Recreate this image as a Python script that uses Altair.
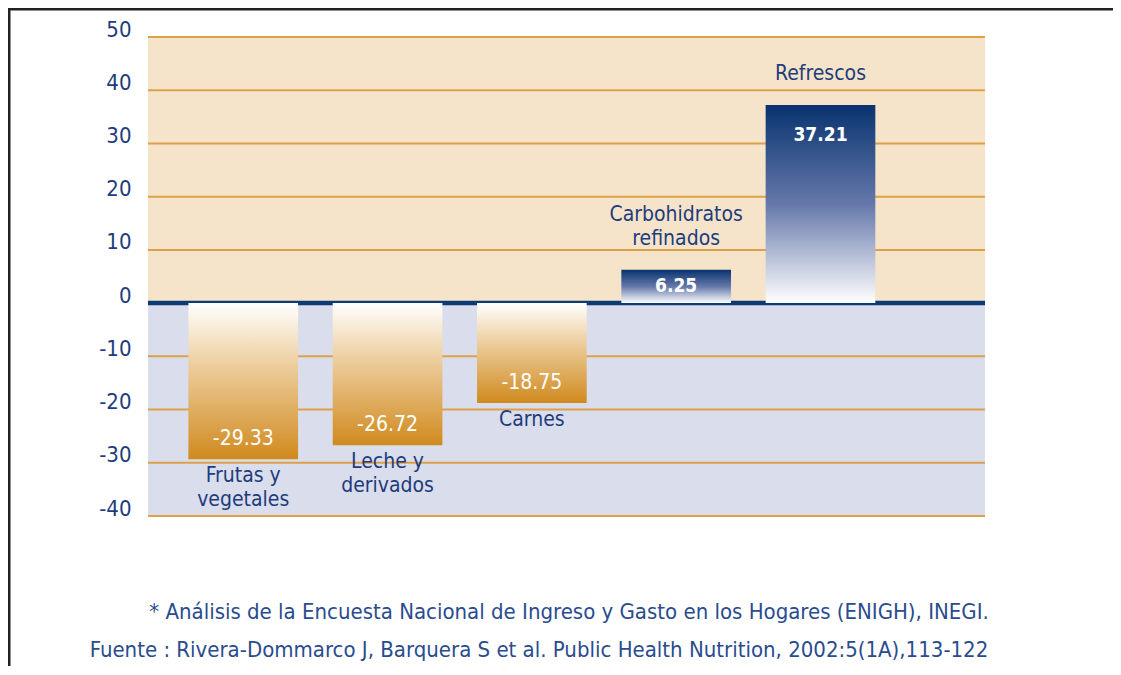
import altair as alt
import pandas as pd

# ---- data ----
categories = ["Frutas y\nvegetales", "Leche y\nderivados", "Carnes", "Carbohidratos\nrefinados", "Refrescos"]
values = [-29.33, -26.72, -18.75, 6.25, 37.21]
value_labels = ["-29.33", "-26.72", "-18.75", "6.25", "37.21"]
y_ticks = [50, 40, 30, 20, 10, 0, -10, -20, -30, -40]
footnotes = [
    "* Análisis de la Encuesta Nacional de Ingreso y Gasto en los Hogares (ENIGH), INEGI.",
    "Fuente : Rivera-Dommarco J, Barquera S et al. Public Health Nutrition, 2002:5(1A),113-122",
]

FONT = "DejaVu Sans Condensed, Liberation Sans Narrow, sans-serif"
NAVY = "#0B3A75"
TEXT_NAVY = "#1E3C7C"
ORANGE = "#D08A1E"
GRID = "#DDA04A"
TAN = "#F5E4CA"
LAV = "#DADDEB"

W, H = 837, 479
PX_PER_UNIT = H / 90.0

df = pd.DataFrame({"cat": categories, "value": values, "label": value_labels,
                   "pos": list(range(len(categories)))})

xscale = alt.Scale(domain=[-0.66, 5.14], nice=False, zero=False)
yscale = alt.Scale(domain=[-40, 50], nice=False, zero=False)
yaxis = alt.Axis(values=y_ticks, title=None, ticks=False, tickSize=0, domain=False, grid=False,
                 labelFont=FONT, labelFontSize=22, labelColor=TEXT_NAVY, labelPadding=17,
                 labelBaseline="alphabetic", labelOffset=-1, labelAlign="right",
                 labelExpr="toString(datum.value)")

# background bands
bg_df = pd.DataFrame({"lo": [0, -40], "hi": [50, 0], "zone": ["pos", "neg"]})
bg = alt.Chart(bg_df).mark_rect().encode(
    x=alt.value(0), x2=alt.value(W),
    y=alt.Y("lo:Q", scale=yscale, axis=yaxis), y2="hi:Q",
    color=alt.Color("zone:N", scale=alt.Scale(domain=["pos", "neg"], range=[TAN, LAV]), legend=None),
)

grid_df = pd.DataFrame({"t": y_ticks})
grid = alt.Chart(grid_df).mark_rule(color=GRID, strokeWidth=2).encode(
    x=alt.value(0), x2=alt.value(W),
    y=alt.Y("t:Q", scale=yscale, axis=yaxis),
)

zero = alt.Chart(pd.DataFrame({"z": [0]})).mark_rule(color=NAVY, strokeWidth=4.5).encode(
    x=alt.value(0), x2=alt.value(W),
    y=alt.Y("z:Q", scale=yscale, axis=yaxis),
)

base = alt.Chart(df).transform_calculate(
    xa="datum.pos - 0.38", xb="datum.pos + 0.38",
    ly="datum.value > 0 ? max(datum.value - 5.6, datum.value / 2) : datum.value + 3.76",
    nl="length(split(datum.cat, '\\n'))",
).transform_calculate(
    cy=f"datum.value + (18 + 24 * datum.nl) / {PX_PER_UNIT}",
)

neg_grad = alt.Gradient(gradient="linear", x1=0, x2=0, y1=0, y2=1, stops=[
    alt.GradientStop(color="#FFFFFF", offset=0),
    alt.GradientStop(color="#EFD3A8", offset=0.35),
    alt.GradientStop(color=ORANGE, offset=1),
])
pos_grad = alt.Gradient(gradient="linear", x1=0, x2=0, y1=0, y2=1, stops=[
    alt.GradientStop(color="#08336F", offset=0),
    alt.GradientStop(color="#6578AA", offset=0.5),
    alt.GradientStop(color="#FFFFFF", offset=1),
])

enc_bar = dict(
    x=alt.X("xa:Q", scale=xscale, axis=None), x2="xb:Q",
    y=alt.Y("value:Q", scale=yscale, axis=yaxis), y2=alt.datum(0),
)
neg_bars = base.transform_filter("datum.value < 0").mark_bar(color=neg_grad).encode(**enc_bar)
pos_bars = base.transform_filter("datum.value > 0").mark_bar(color=pos_grad).encode(**enc_bar)

enc_lbl = dict(
    x=alt.X("pos:Q", scale=xscale, axis=None),
    y=alt.Y("ly:Q", scale=yscale, axis=yaxis),
    text="label:N",
)
neg_vals = base.transform_filter("datum.value < 0").mark_text(
    font=FONT, fontSize=21, color="white", baseline="middle", align="center").encode(**enc_lbl)
pos_vals = base.transform_filter("datum.value > 0").mark_text(
    font=FONT, fontSize=19, fontWeight="bold", color="white", baseline="middle", align="center").encode(**enc_lbl)

neg_cats = base.transform_filter("datum.value < 0").mark_text(
    font=FONT, fontSize=21, color=TEXT_NAVY, baseline="top", dy=6, lineBreak="\n",
    lineHeight=24, align="center").encode(
    x=alt.X("pos:Q", scale=xscale, axis=None),
    y=alt.Y("value:Q", scale=yscale, axis=yaxis),
    text="cat:N",
)
pos_cats = base.transform_filter("datum.value > 0").mark_text(
    font=FONT, fontSize=21, color=TEXT_NAVY, baseline="top", lineBreak="\n",
    lineHeight=24, align="center").encode(
    x=alt.X("pos:Q", scale=xscale, axis=None),
    y=alt.Y("cy:Q", scale=yscale, axis=yaxis),
    text="cat:N",
)

foot1 = alt.Chart(pd.DataFrame({"t": [footnotes[0]]})).mark_text(
    font=FONT, fontSize=22, color="#2A4C8E", align="center", baseline="middle").encode(
    text="t:N", x=alt.value(421), y=alt.value(575))
foot2 = alt.Chart(pd.DataFrame({"t": [footnotes[1]]})).mark_text(
    font=FONT, fontSize=22, color="#2A4C8E", align="center", baseline="middle").encode(
    text="t:N", x=alt.value(391), y=alt.value(613))

frame_top = alt.Chart(pd.DataFrame({"a": [0]})).mark_rule(color="#222222", strokeWidth=3).encode(
    x=alt.value(-140), x2=alt.value(W + 128), y=alt.value(-28))
frame_left = alt.Chart(pd.DataFrame({"a": [0]})).mark_rule(color="#222222", strokeWidth=3).encode(
    x=alt.value(-139), y=alt.value(-29), y2=alt.value(640))

chart = alt.layer(
    bg, grid, zero, neg_bars, pos_bars, neg_vals, pos_vals, neg_cats, pos_cats,
    foot1, foot2, frame_top, frame_left,
).properties(
    width=W, height=H,
    autosize=alt.AutoSizeParams(type="none"),
    padding={"left": 140, "top": 29, "right": 128, "bottom": 150},
    background="white",
).configure_view(stroke=None)

chart.save("out.html", embed_options={"renderer": "svg", "actions": False})
